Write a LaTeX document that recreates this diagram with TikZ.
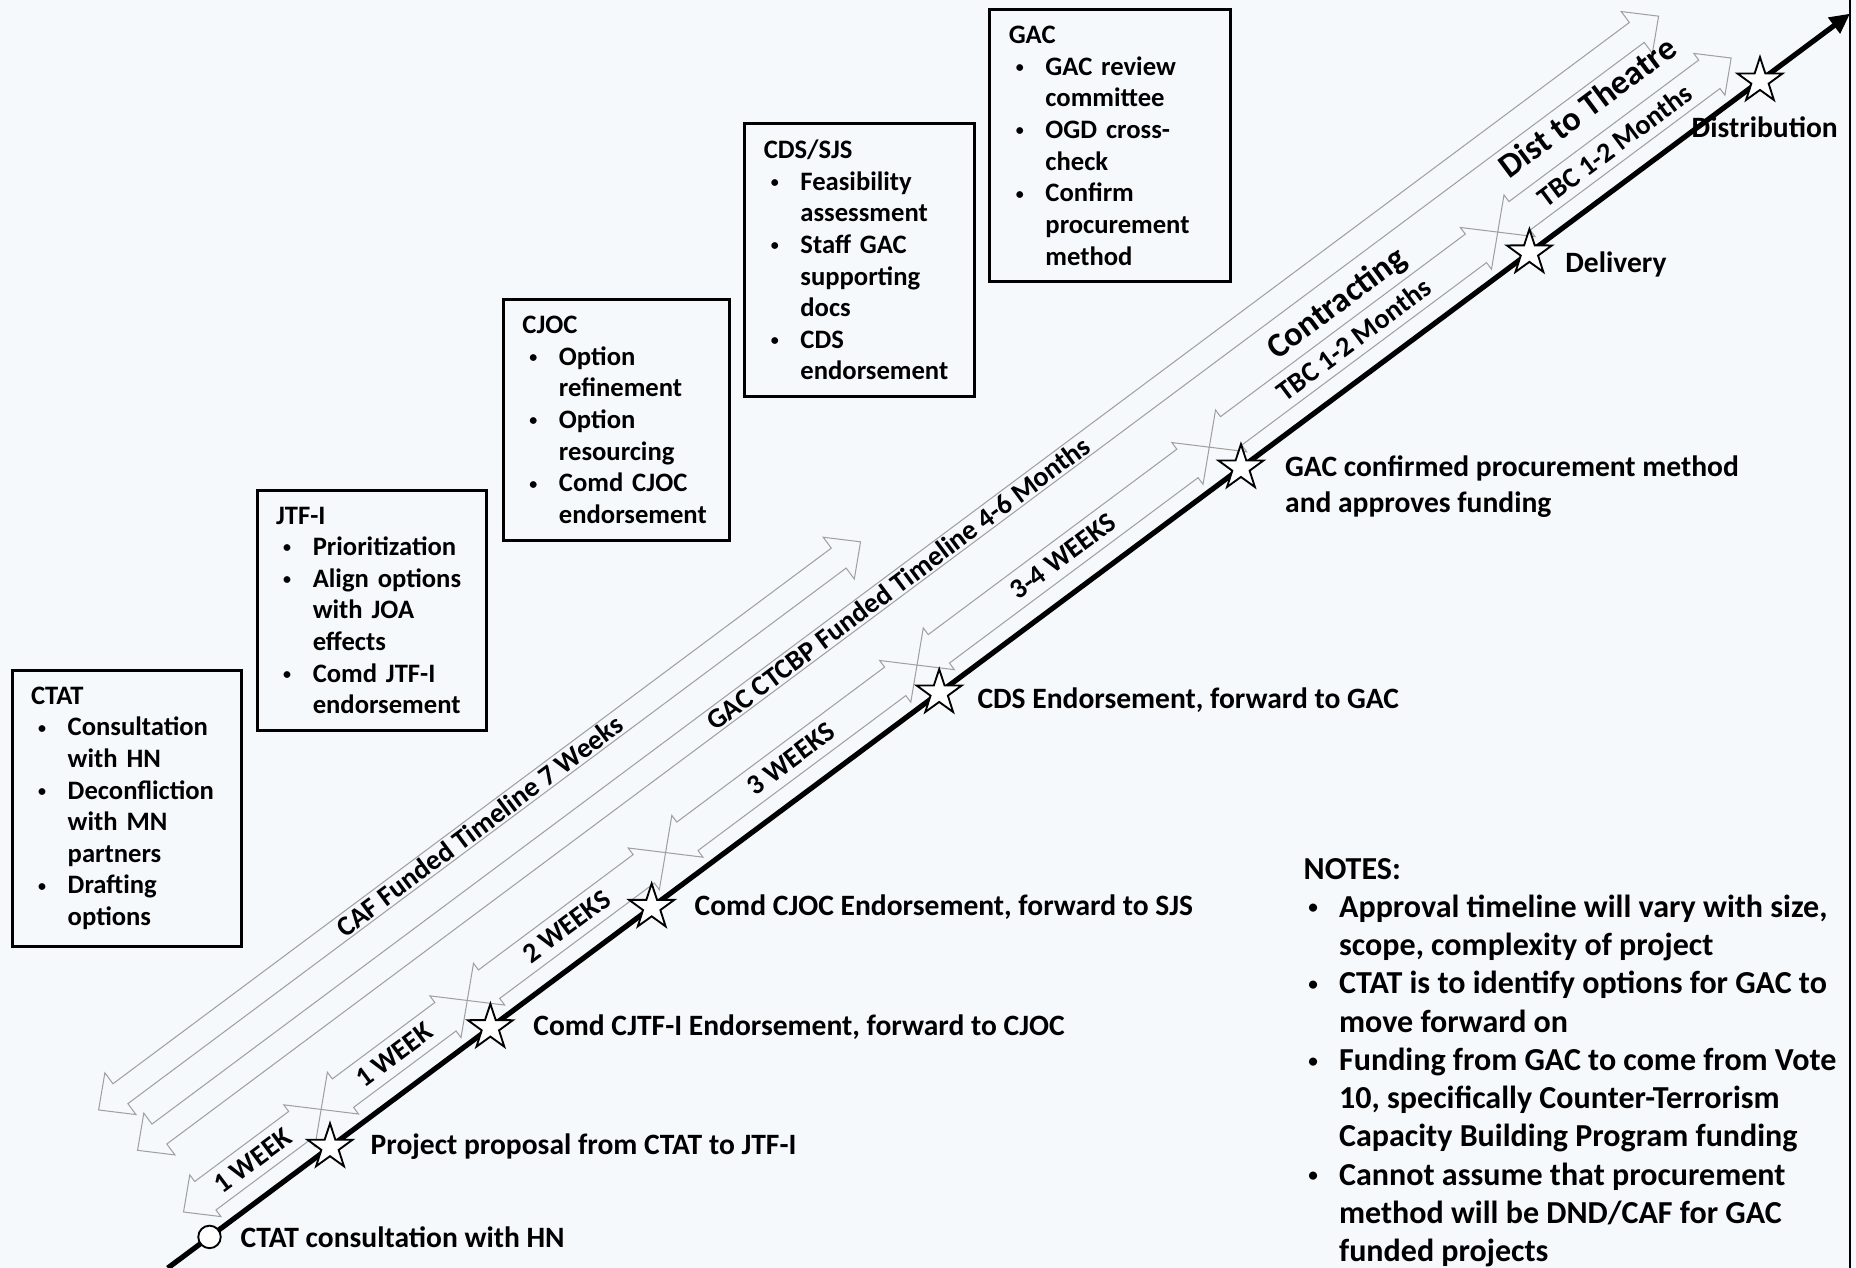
\documentclass[tikz,border=0pt]{standalone}
\usepackage{fontspec}
\usepackage{graphicx}
\setmainfont{Carlito}
\usetikzlibrary{positioning,shapes.geometric,arrows.meta}
\definecolor{paper}{RGB}{246,249,251}
\definecolor{spangray}{RGB}{160,160,160}
\newcommand{\bbul}{\makebox[6.2mm][l]{\hspace{1.2mm}\raisebox{0.22ex}{\scalebox{0.6}{\textbullet}}}}
\newcommand{\bsp}{\hspace*{6.2mm}}
\newcommand{\nbul}{\makebox[6mm][l]{\hspace{0.8mm}\raisebox{0.22ex}{\scalebox{0.6}{\textbullet}}}}
\newcommand{\nsp}{\hspace*{6mm}}

\begin{document}
\begin{tikzpicture}[x=0.2mm,y=0.2mm,
    box/.style={draw,line width=1.4pt,anchor=north west,align=left,inner xsep=3.2mm,inner ysep=2.8mm,
      font=\fontsize{12.8}{15.2}\selectfont\bfseries},
    mile/.style={star,star points=5,star point ratio=2.6,minimum size=8mm,inner sep=0pt,draw,fill=white,line width=0.9pt},
    start/.style={circle,minimum size=3.8mm,inner sep=0pt,draw,fill=white,line width=0.9pt},
    mlbl/.style={inner sep=0pt,align=left,font=\fontsize{14.2}{17}\selectfont\bfseries},
    span/.style={draw=spangray,line width=0.5pt,line join=miter},
    wlbl/.style={rotate=36.71,inner sep=0pt,font=\fontsize{13.5}{16}\selectfont\bfseries},
    big/.style={rotate=36.71,inner sep=0pt,font=\fontsize{16.5}{19}\selectfont\bfseries}]
    \useasboundingbox (0,0) rectangle (1568,1071);
    \fill[paper] (0,0) rectangle (1568,1071);
    \draw[line width=1.3pt] (1563,0) -- (1563,1071);

    % timeline, drawn along its own axis
    \begin{scope}[shift={(177,26)},rotate=36.71]
        \foreach \s/\e/\o/\t [count=\i] in {-11/792/142/CAF Funded Timeline 7 Weeks,-5/1598/95/GAC CTCBP Funded Timeline 4-6 Months} {
            \draw[span] (\s,\o) -- ({\s+23},{\o+22}) -- ({\s+23},{\o+10.5}) -- ({\e-23},{\o+10.5}) -- ({\e-23},{\o+22}) -- (\e,\o)
                -- ({\e-23},{\o-22}) -- ({\e-23},{\o-10.5}) -- ({\s+23},{\o-10.5}) -- ({\s+23},{\o-22}) -- cycle;
            \node[wlbl] (long\i) at ({(\s+\e)/2},\o) {\t};
        }
        \foreach \s/\e/\t [count=\i] in {-5/140/1 WEEK,140/294/1 WEEK,294/503/2 WEEKS,503/768/3 WEEKS,768/1076/3-4 WEEKS,1076/1380/TBC 1-2 Months,1380/1626/TBC 1-2 Months} {
            \draw[span] (\s,30) -- ({\s+23},52) -- ({\s+23},45) -- ({\e-23},45) -- ({\e-23},52) -- (\e,30)
                -- ({\e-23},8) -- ({\e-23},15) -- ({\s+23},15) -- ({\s+23},8) -- cycle;
            \node[wlbl] (wk\i) at ({(\s+\e)/2},30) {\t};
        }
        \coordinate (t0) at (-44,0);
        \coordinate (t1) at (1729,0);
        \draw[line width=2.5pt,-{Triangle[length=3.4mm,width=3.2mm]}] (t0) -- (t1);
        \node[start] (m0) at (0,0) {};
        \foreach \a [count=\i] in {127,296,466,769,1087,1391,1634}
            \node[mile] (m\i) at (\a,0) {};
        \node[big] (contr) at (1235,62) {Contracting};
        \node[big] (dist) at (1504,70) {Dist to Theatre};
    \end{scope}

    % milestone texts
    \node[mlbl,right=5.2mm of m0.center] (l0) {CTAT consultation with HN};
    \node[mlbl,right=6.8mm of m1.center] (l1) {Project proposal from CTAT to JTF-I};
    \node[mlbl,right=7.2mm of m2.center] (l2) {Comd CJTF-I Endorsement, forward to CJOC};
    \node[mlbl,right=7.2mm of m3.center] (l3) {Comd CJOC Endorsement, forward to SJS};
    \node[mlbl,right=6.4mm of m4.center,yshift=-1.2mm] (l4) {CDS Endorsement, forward to GAC};
    \node[mlbl,right=7.4mm of m5.center,yshift=-3.2mm] (l5) {GAC confirmed procurement method\\and approves funding};
    \node[mlbl,right=6mm of m6.center,yshift=-2mm] (l6) {Delivery};
    \node[mlbl,below=6mm of m7.center,xshift=0.8mm] (l7) {Distribution};

    % staff boxes
    \node[box,text width=32.4mm] (ctat) at (9,506) {CTAT\\
        \bbul Consultation\\ \bsp with HN\\
        \bbul Deconfliction\\ \bsp with MN\\ \bsp partners\\
        \bbul Drafting\\ \bsp options};
    \node[box,text width=32.4mm] (jtf) at (216,658) {JTF-I\\
        \bbul Prioritization\\
        \bbul Align options\\ \bsp with JOA\\ \bsp effects\\
        \bbul Comd JTF-I\\ \bsp endorsement};
    \node[box,text width=31.8mm] (cjoc) at (424,819) {CJOC\\
        \bbul Option\\ \bsp refinement\\
        \bbul Option\\ \bsp resourcing\\
        \bbul Comd CJOC\\ \bsp endorsement};
    \node[box,text width=32.4mm] (cds) at (628,968) {CDS/SJS\\
        \bbul Feasibility\\ \bsp assessment\\
        \bbul Staff GAC\\ \bsp supporting\\ \bsp docs\\
        \bbul CDS\\ \bsp endorsement};
    \node[box,text width=34.2mm] (gac) at (835,1064) {GAC\\
        \bbul GAC review\\ \bsp committee\\
        \bbul OGD cross-\\ \bsp check\\
        \bbul Confirm\\ \bsp procurement\\ \bsp method};

    % notes
    \node[anchor=base west,inner sep=0pt,align=left,font=\fontsize{15.4}{18.4}\selectfont\bfseries] (notes) at (1101,5) {NOTES:\\
        \nbul Approval timeline will vary with size,\\ \nsp scope, complexity of project\\
        \nbul CTAT is to identify options for GAC to\\ \nsp move forward on\\
        \nbul Funding from GAC to come from Vote\\ \nsp 10, specifically Counter-Terrorism\\ \nsp Capacity Building Program funding\\
        \nbul Cannot assume that procurement\\ \nsp method will be DND/CAF for GAC\\ \nsp funded projects};
\end{tikzpicture}
\end{document}
